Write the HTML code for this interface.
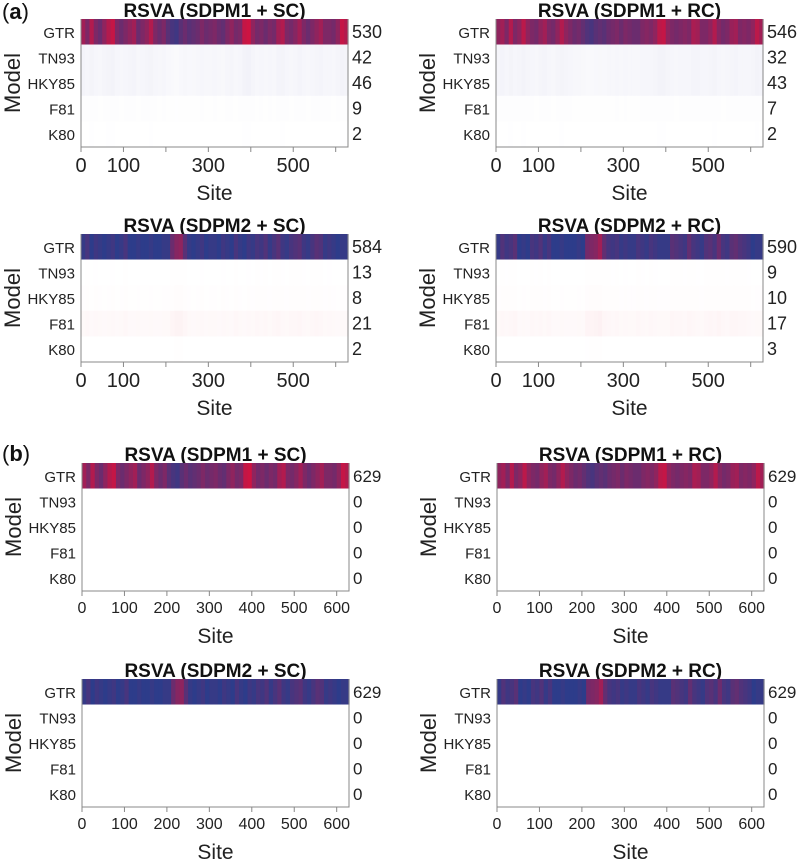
<!DOCTYPE html>
<html><head><meta charset="utf-8"><style>
body{margin:0;background:#fff;width:800px;height:861px;overflow:hidden}
text{font-family:"Liberation Sans",sans-serif}
</style></head><body>
<svg id="fig" width="800" height="861" xmlns="http://www.w3.org/2000/svg"></svg>
<script>
const models = ["GTR","TN93","HKY85","F81","K80"];
const nSites = 629;
const binSize = 10;
// GTR redness per 10-site bin (0 = blue, 1 = red)
const m1sc = [0.7,0.5,0.8,0.5,0.4,0.6,0.8,0.9,0.5,0.4,0.5,0.6,0.7,0.4,0.5,0.6,0.8,0.5,0.4,0.5,0.3,0.2,0.15,0.3,0.4,0.3,0.35,0.4,0.5,0.4,0.45,0.5,0.4,0.35,0.5,0.6,0.45,0.5,0.9,0.95,0.6,0.45,0.5,0.4,0.5,0.45,0.7,0.8,0.5,0.45,0.55,0.7,0.5,0.4,0.5,0.6,0.7,0.5,0.5,0.45,0.6,0.9,0.8];
const m1rc = [0.6,0.7,0.5,0.8,0.5,0.6,0.85,0.6,0.5,0.45,0.6,0.7,0.5,0.45,0.6,0.8,0.6,0.5,0.4,0.45,0.35,0.25,0.2,0.3,0.35,0.3,0.4,0.45,0.5,0.4,0.5,0.45,0.4,0.4,0.5,0.55,0.5,0.6,0.85,0.9,0.6,0.5,0.45,0.5,0.55,0.5,0.75,0.7,0.5,0.5,0.6,0.8,0.55,0.45,0.5,0.65,0.7,0.5,0.55,0.5,0.6,0.85,0.7];
const m2sc = [0.1,0.2,0.05,0.15,0.1,0.05,0.1,0.15,0.05,0.1,0.2,0.05,0.05,0.1,0.05,0.05,0.1,0.05,0.05,0.1,0.1,0.4,0.55,0.6,0.3,0.1,0.05,0.1,0.15,0.05,0.1,0.1,0.05,0.15,0.1,0.05,0.2,0.1,0.05,0.15,0.1,0.2,0.15,0.25,0.1,0.2,0.3,0.15,0.1,0.2,0.25,0.3,0.15,0.1,0.2,0.3,0.25,0.1,0.15,0.1,0.05,0.1,0.1];
const m2rc = [0.1,0.25,0.15,0.2,0.3,0.05,0.1,0.05,0.2,0.15,0.25,0.1,0.2,0.05,0.05,0.1,0.05,0.05,0.05,0.1,0.05,0.45,0.5,0.55,0.7,0.35,0.2,0.15,0.2,0.1,0.15,0.1,0.1,0.2,0.15,0.1,0.2,0.15,0.1,0.1,0.1,0.3,0.25,0.2,0.15,0.35,0.2,0.15,0.1,0.25,0.3,0.2,0.4,0.2,0.15,0.3,0.35,0.25,0.2,0.15,0.05,0.1,0.1];
const countsA1 = [530,42,46,9,2];
const countsA2 = [546,32,43,7,2];
const countsA3 = [584,13,8,21,2];
const countsA4 = [590,9,10,17,3];
const countsB = [629,0,0,0,0];
const ticksA = [0,100,200,300,400,500,600];
const tickLabelsA = ["0","100","","300","","500",""];
const tickLabelsB = ["0","100","200","300","400","500","600"];
// per-row tint intensity for non-GTR rows
const tintA1 = [0,0.45,0.45,0.08,0.02];
const tintA3 = [0,0.03,0.1,0.4,0.02];
const titles = ["RSVA (SDPM1 + SC)","RSVA (SDPM1 + RC)","RSVA (SDPM2 + SC)","RSVA (SDPM2 + RC)"];

const svg = document.getElementById('fig');
const NS = "http://www.w3.org/2000/svg";
function mk(tag, attrs, parent){const e=document.createElementNS(NS,tag);for(const k in attrs)e.setAttribute(k,attrs[k]);(parent||svg).appendChild(e);return e;}
function mix(a,b,t){return `rgb(${Math.round(a[0]+(b[0]-a[0])*t)},${Math.round(a[1]+(b[1]-a[1])*t)},${Math.round(a[2]+(b[2]-a[2])*t)})`;}
const BLUE=[36,62,142], RED=[214,18,62], WHITE=[255,255,255];

function panel(opts){
  const {x0,y0,title,gtr,counts,tint,tintColor,big,id} = opts;
  const W=267,H=128,rh=H/5;
  const xs = s => x0 + s/nSites*W;
  const g = mk('g',{});
  
  
  const t = mk('text',{x:x0+W/2,y:y0-2,'text-anchor':'middle','font-size':19,'font-weight':'bold',fill:'#111'},g);
  t.textContent=title;
  
  
  for(let r=0;r<5;r++){
    for(let b=0;b<gtr.length;b++){
      const s0=b*binSize, s1=Math.min(nSites,(b+1)*binSize);
      let col;
      if(r===0) col=mix(BLUE,RED,gtr[b]);
      else { const v=tint[r]*(0.3+0.7*gtr[b]); col=mix(WHITE,tintColor,v*0.22); }
      const c = mk('rect',{x:xs(s0),y:y0+r*rh,width:xs(s1)-xs(s0)+0.6,height:rh+(r===0?0:0.3),fill:col},g);
      
      
    }
    const l = mk('text',{x:x0-6,y:y0+r*rh+rh/2+6,'text-anchor':'end','font-size':15,fill:'#222'},g);
    l.textContent=models[r];
    
    
    const n = mk('text',{x:x0+W+4,y:y0+r*rh+rh/2+6,'font-size':big?18:17,fill:'#222'},g);
    n.textContent=counts[r];
    
    
  }
  const f = mk('path',{d:`M${x0},${y0}V${y0+H}H${x0+W}V${y0}`,fill:'none',stroke:'#888','stroke-width':1},g);
  
  
  const labels = big?tickLabelsA:tickLabelsB;
  ticksA.forEach((v,i)=>{
    mk('line',{x1:xs(v),x2:xs(v),y1:y0+H,y2:y0+H+5,stroke:'#888'},g);
    if(labels[i]){
      const tl = mk('text',{x:xs(v),y:y0+H+(big?25:22),'text-anchor':'middle','font-size':big?20:16,fill:'#222'},g);
      tl.textContent=labels[i];
      
      
    }
  });
  const st = mk('text',{x:x0+W/2,y:y0+H+(big?53:52),'text-anchor':'middle','font-size':21,fill:'#222'},g);
  st.textContent='Site';
  
  
  const mx = x0-61, my = y0+H/2;
  const mt = mk('text',{x:mx,y:my,'text-anchor':'middle','font-size':22,fill:'#222',transform:`rotate(-90 ${mx} ${my})`},g);
  mt.textContent='Model';
  
  
}
const LAV=[120,120,190], PINK=[230,60,80];
panel({id:'panel-a1',x0:81,y0:19,title:titles[0],gtr:m1sc,counts:countsA1,tint:tintA1,tintColor:LAV,big:true});
panel({id:'panel-a2',x0:496,y0:19,title:titles[1],gtr:m1rc,counts:countsA2,tint:tintA1,tintColor:LAV,big:true});
panel({id:'panel-a3',x0:81,y0:234,title:titles[2],gtr:m2sc,counts:countsA3,tint:tintA3,tintColor:PINK,big:true});
panel({id:'panel-a4',x0:496,y0:234,title:titles[3],gtr:m2rc,counts:countsA4,tint:tintA3,tintColor:PINK,big:true});
panel({id:'panel-b1',x0:82,y0:463,title:titles[0],gtr:m1sc,counts:countsB,tint:[0,0,0,0,0],tintColor:WHITE,big:false});
panel({id:'panel-b2',x0:497,y0:463,title:titles[1],gtr:m1rc,counts:countsB,tint:[0,0,0,0,0],tintColor:WHITE,big:false});
panel({id:'panel-b3',x0:82,y0:679,title:titles[2],gtr:m2sc,counts:countsB,tint:[0,0,0,0,0],tintColor:WHITE,big:false});
panel({id:'panel-b4',x0:497,y0:679,title:titles[3],gtr:m2rc,counts:countsB,tint:[0,0,0,0,0],tintColor:WHITE,big:false});
const pa = mk('text',{x:2,y:19,'font-size':22,fill:'#111'}); pa.innerHTML='(<tspan font-weight="bold">a</tspan>)';


const pb = mk('text',{x:2,y:461,'font-size':22,fill:'#111'}); pb.innerHTML='(<tspan font-weight="bold">b</tspan>)';


</script>
</body></html>
